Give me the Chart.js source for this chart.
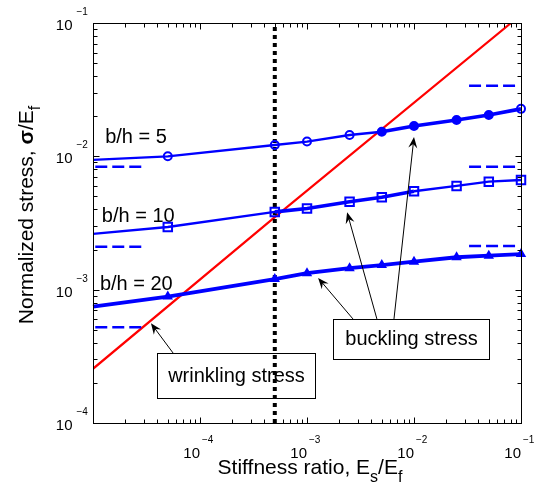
<!DOCTYPE html>
<html>
<head>
<meta charset="utf-8">
<script src="https://cdn.jsdelivr.net/npm/chart.js@4.4.0/dist/chart.umd.min.js"></script>
<style>
  body { margin: 0; background: #fff; }
  canvas { display: block; }
</style>
</head>
<body>
<canvas id="chart" width="548" height="495"></canvas>
<script>
// stiffness ratio Es/Ef where the buckling curves are sampled
const stiffness = [1e-5, 5e-5, 5e-4, 1e-3, 2.5e-3, 5e-3, 1e-2, 2.5e-2, 5e-2, 1e-1];
const buckling5 = [9.4e-3, 1.0e-2, 1.216e-2, 1.29e-2, 1.445e-2, 1.53e-2, 1.69e-2, 1.875e-2, 2.04e-2, 2.27e-2];
const buckling10 = [2.62e-3, 2.95e-3, 3.83e-3, 4.06e-3, 4.57e-3, 4.93e-3, 5.47e-3, 6.0e-3, 6.46e-3, 6.65e-3];
const buckling20 = [7.47e-4, 8.87e-4, 1.2e-3, 1.33e-3, 1.45e-3, 1.53e-3, 1.62e-3, 1.75e-3, 1.8e-3, 1.85e-3];

// wrinkling stress (straight line on log-log)
const wrinklingX = [1e-5, 5e-4, 0.0807];
const wrinklingY = [2.55e-4, 3.5e-3, 0.1];

// short dashed limits for b/h = 5, 10, 20
const limitLeftX = [1.05e-5, 2.93e-5];
const limitRightX = [0.0327, 0.093];
const limitLeft = [8.37e-3, 2.1e-3, 5.22e-4];
const limitRight = [3.39e-2, 8.37e-3, 2.13e-3];

// vertical dotted line
const cutoffX = 5e-4;

const xTickExps = [-4, -3, -2, -1];
const yTickExps = [-4, -3, -2, -1];
const curveNames = ['b/h = 5', 'b/h = 10', 'b/h = 20'];

const X_MIN = 1e-5, X_MAX = 1e-1, Y_MIN = 1e-4, Y_MAX = 1e-1;
const BLUE = '#0000ff';
const FONT = "'Liberation Sans', Arial, Helvetica, sans-serif";

const pts = (xs, ys) => xs.map((x, i) => ({ x: x, y: ys[i] }));

// where the curve is drawn heavier (and b/h=5 dots filled)
const heavy = [[5e-3, 1e-1], [5e-4, 1e-2], [1e-5, 1e-1]];
const filled5 = [5e-3, 5e-2];

function bucklingSet(i, ys, style, radius, width) {
    const [lo, hi] = heavy[i];
    return {
        label: curveNames[i],
        data: pts(stiffness, ys),
        showLine: true,
        borderColor: BLUE,
        borderWidth: width,
        segment: {
            borderWidth: (c) => (c.p0.parsed.x >= lo * 0.99 && c.p1.parsed.x <= hi * 1.01 ? width + 1.2 : width),
        },
        pointStyle: style,
        pointRadius: (c) => (c.dataIndex === 0 ? 0 : radius),
        pointBorderColor: BLUE,
        pointBorderWidth: 2,
        pointBackgroundColor: (c) => {
            if (style === 'triangle') return BLUE;
            const x = stiffness[c.dataIndex];
            if (i === 0 && x >= filled5[0] && x <= filled5[1]) return BLUE;
            return 'rgba(0,0,0,0)';
        },
        clip: false,
        order: 1,
    };
}

function limitSet(xs, y) {
    return {
        data: pts(xs, [y, y]),
        showLine: true,
        borderColor: BLUE,
        borderWidth: 2.5,
        borderDash: [12, 5],
        pointRadius: 0,
        order: 2,
    };
}

const datasets = [
    bucklingSet(0, buckling5, 'circle', 4, 2.4),
    bucklingSet(1, buckling10, 'rect', 6, 2.4),
    bucklingSet(2, buckling20, 'triangle', 4, 2.6),
    {
        label: 'wrinkling stress',
        data: pts(wrinklingX, wrinklingY),
        showLine: true,
        borderColor: '#ff0000',
        borderWidth: 2.2,
        pointRadius: 0,
        order: 4,
    },
    {
        data: [{ x: cutoffX, y: Y_MIN }, { x: cutoffX, y: Y_MAX }],
        showLine: true,
        borderColor: '#000',
        borderWidth: 4,
        borderDash: [4, 4],
        pointRadius: 0,
        order: 3,
    },
];
limitLeft.forEach((y) => datasets.push(limitSet(limitLeftX, y)));
limitRight.forEach((y) => datasets.push(limitSet(limitRightX, y)));

// annotations, placed in data coordinates
const curveLabelAt = [[1.3e-5, 0.0126], [1.21e-5, 3.22e-3], [1.16e-5, 9.95e-4]];
const wrinkBox = { x0: 3.96e-5, x1: 1.19e-3, y0: 3.35e-4, y1: 1.54e-4, text: 'wrinkling stress' };
const buckBox = { x0: 1.75e-3, x1: 0.0502, y0: 6.03e-4, y1: 3.02e-4, text: 'buckling stress' };
const arrows = [
    { from: [5.6e-5, 3.35e-4], to: [3.48e-5, 5.6e-4] },
    { from: [2.69e-3, 6.03e-4], to: [1.27e-3, 1.225e-3] },
    { from: [4.5e-3, 6.03e-4], to: [2.37e-3, 3.8e-3] },
    { from: [6.5e-3, 6.03e-4], to: [1e-2, 0.01396] },
];

function drawArrow(ctx, x0, y0, x1, y1) {
    const ang = Math.atan2(y1 - y0, x1 - x0);
    const L = 11, W = 4.5;
    ctx.beginPath();
    ctx.moveTo(x0, y0);
    ctx.lineTo(x1 - Math.cos(ang) * 6, y1 - Math.sin(ang) * 6);
    ctx.stroke();
    ctx.save();
    ctx.translate(x1, y1);
    ctx.rotate(ang);
    ctx.beginPath();
    ctx.moveTo(0, 0);
    ctx.lineTo(-L, -W);
    ctx.lineTo(-L * 0.65, 0);
    ctx.lineTo(-L, W);
    ctx.closePath();
    ctx.fill();
    ctx.restore();
}

function logTicks(min, max) {
    const out = [];
    for (let e = Math.round(Math.log10(min)); e <= Math.round(Math.log10(max)); e++) {
        for (let m = 1; m <= 9; m++) {
            const v = m * Math.pow(10, e);
            if (v >= min * 0.999 && v <= max * 1.001) out.push({ v: v, major: m === 1 });
        }
    }
    return out;
}

// draw a run of [text, fontSize, bold, dy] pieces
function runWidth(ctx, parts) {
    let w = 0;
    parts.forEach((p) => {
        ctx.font = (p[2] ? 'bold ' : '') + p[1] + 'px ' + FONT;
        w += ctx.measureText(p[0]).width;
    });
    return w;
}
function drawRun(ctx, parts, x, y) {
    parts.forEach((p) => {
        ctx.font = (p[2] ? 'bold ' : '') + p[1] + 'px ' + FONT;
        ctx.fillText(p[0], x, y + p[3]);
        x += ctx.measureText(p[0]).width;
    });
}

const decorations = {
    id: 'decorations',
    beforeDatasetsDraw(chart) {
        const { ctx, scales: { x, y } } = chart;
        ctx.save();
        ctx.fillStyle = '#000';
        ctx.strokeStyle = '#000';
        ctx.lineWidth = 1;
        ctx.font = '20px ' + FONT;
        ctx.textAlign = 'left';
        ctx.textBaseline = 'alphabetic';
        curveNames.forEach((t, i) => {
            ctx.fillText(t, x.getPixelForValue(curveLabelAt[i][0]), y.getPixelForValue(curveLabelAt[i][1]));
        });
        [wrinkBox, buckBox].forEach((b) => {
            const l = Math.round(x.getPixelForValue(b.x0)) + 0.5;
            const r = Math.round(x.getPixelForValue(b.x1)) + 0.5;
            const t = Math.round(y.getPixelForValue(b.y0)) + 0.5;
            const bt = Math.round(y.getPixelForValue(b.y1)) + 0.5;
            ctx.strokeRect(l, t, r - l, bt - t);
            ctx.textAlign = 'center';
            ctx.textBaseline = 'middle';
            ctx.fillText(b.text, (l + r) / 2, (t + bt) / 2);
        });
        ctx.restore();
    },
    afterDatasetsDraw(chart) {
        const { ctx, scales: { x, y } } = chart;
        ctx.save();
        ctx.fillStyle = '#000';
        ctx.strokeStyle = '#000';
        ctx.lineWidth = 1;
        arrows.forEach((a) => {
            drawArrow(ctx,
                x.getPixelForValue(a.from[0]), y.getPixelForValue(a.from[1]),
                x.getPixelForValue(a.to[0]), y.getPixelForValue(a.to[1]));
        });
        ctx.restore();
    },
    afterDraw(chart) {
        const { ctx, chartArea: area, scales: { x, y } } = chart;
        const L = Math.round(area.left) + 0.5, R = Math.round(area.right) + 0.5;
        const T = Math.round(area.top) + 0.5, B = Math.round(area.bottom) + 0.5;
        ctx.save();
        ctx.strokeStyle = '#000';
        ctx.fillStyle = '#000';
        ctx.lineWidth = 1;
        ctx.strokeRect(L, T, R - L, B - T);

        ctx.beginPath();
        logTicks(X_MIN, X_MAX).forEach((t) => {
            const px = Math.round(x.getPixelForValue(t.v)) + 0.5;
            const len = t.major ? 6 : 4;
            ctx.moveTo(px, B); ctx.lineTo(px, B - len);
            ctx.moveTo(px, T); ctx.lineTo(px, T + len);
        });
        logTicks(Y_MIN, Y_MAX).forEach((t) => {
            const py = Math.round(y.getPixelForValue(t.v)) + 0.5;
            const len = t.major ? 6 : 4;
            ctx.moveTo(L, py); ctx.lineTo(L + len, py);
            ctx.moveTo(R, py); ctx.lineTo(R - len, py);
        });
        ctx.stroke();

        // tick labels 10^n
        ctx.textBaseline = 'alphabetic';
        xTickExps.forEach((e) => {
            const px = x.getPixelForValue(Math.pow(10, e));
            ctx.font = '15px ' + FONT;
            ctx.textAlign = 'right';
            ctx.fillText('10', px, B + 34);
            ctx.font = '10px ' + FONT;
            ctx.textAlign = 'left';
            ctx.fillText('\u2212' + Math.abs(e), px + 2, B + 19);
        });
        yTickExps.forEach((e) => {
            const py = y.getPixelForValue(Math.pow(10, e));
            ctx.font = '15px ' + FONT;
            ctx.textAlign = 'right';
            ctx.fillText('10', L - 21, py + 7);
            ctx.font = '10px ' + FONT;
            ctx.textAlign = 'left';
            ctx.fillText('\u2212' + Math.abs(e), L - 17, py - 8);
        });

        // axis titles
        ctx.textAlign = 'left';
        const xt = [['Stiffness ratio, E', 21, false, 0], ['s', 16, false, 8], ['/E', 21, false, 0], ['f', 16, false, 8]];
        drawRun(ctx, xt, 310 - runWidth(ctx, xt) / 2, B + 50);

        const yt = [['Normalized stress, ', 21, false, 0], ['\u03c3', 21, true, 0], ['/E', 21, false, 0], ['f', 16, false, 7]];
        ctx.translate(33, 215);
        ctx.rotate(-Math.PI / 2);
        drawRun(ctx, yt, -runWidth(ctx, yt) / 2, 0);
        ctx.restore();
    },
};

new Chart(document.getElementById('chart'), {
    type: 'scatter',
    data: { datasets: datasets },
    options: {
        responsive: false,
        animation: false,
        devicePixelRatio: 1,
        layout: { padding: { left: 93, top: 23, right: 27, bottom: 72 } },
        plugins: { legend: { display: false }, tooltip: { enabled: false } },
        scales: {
            x: { type: 'logarithmic', min: X_MIN, max: X_MAX, display: false },
            y: { type: 'logarithmic', min: Y_MIN, max: Y_MAX, display: false },
        },
    },
    plugins: [decorations],
});
</script>
</body>
</html>
